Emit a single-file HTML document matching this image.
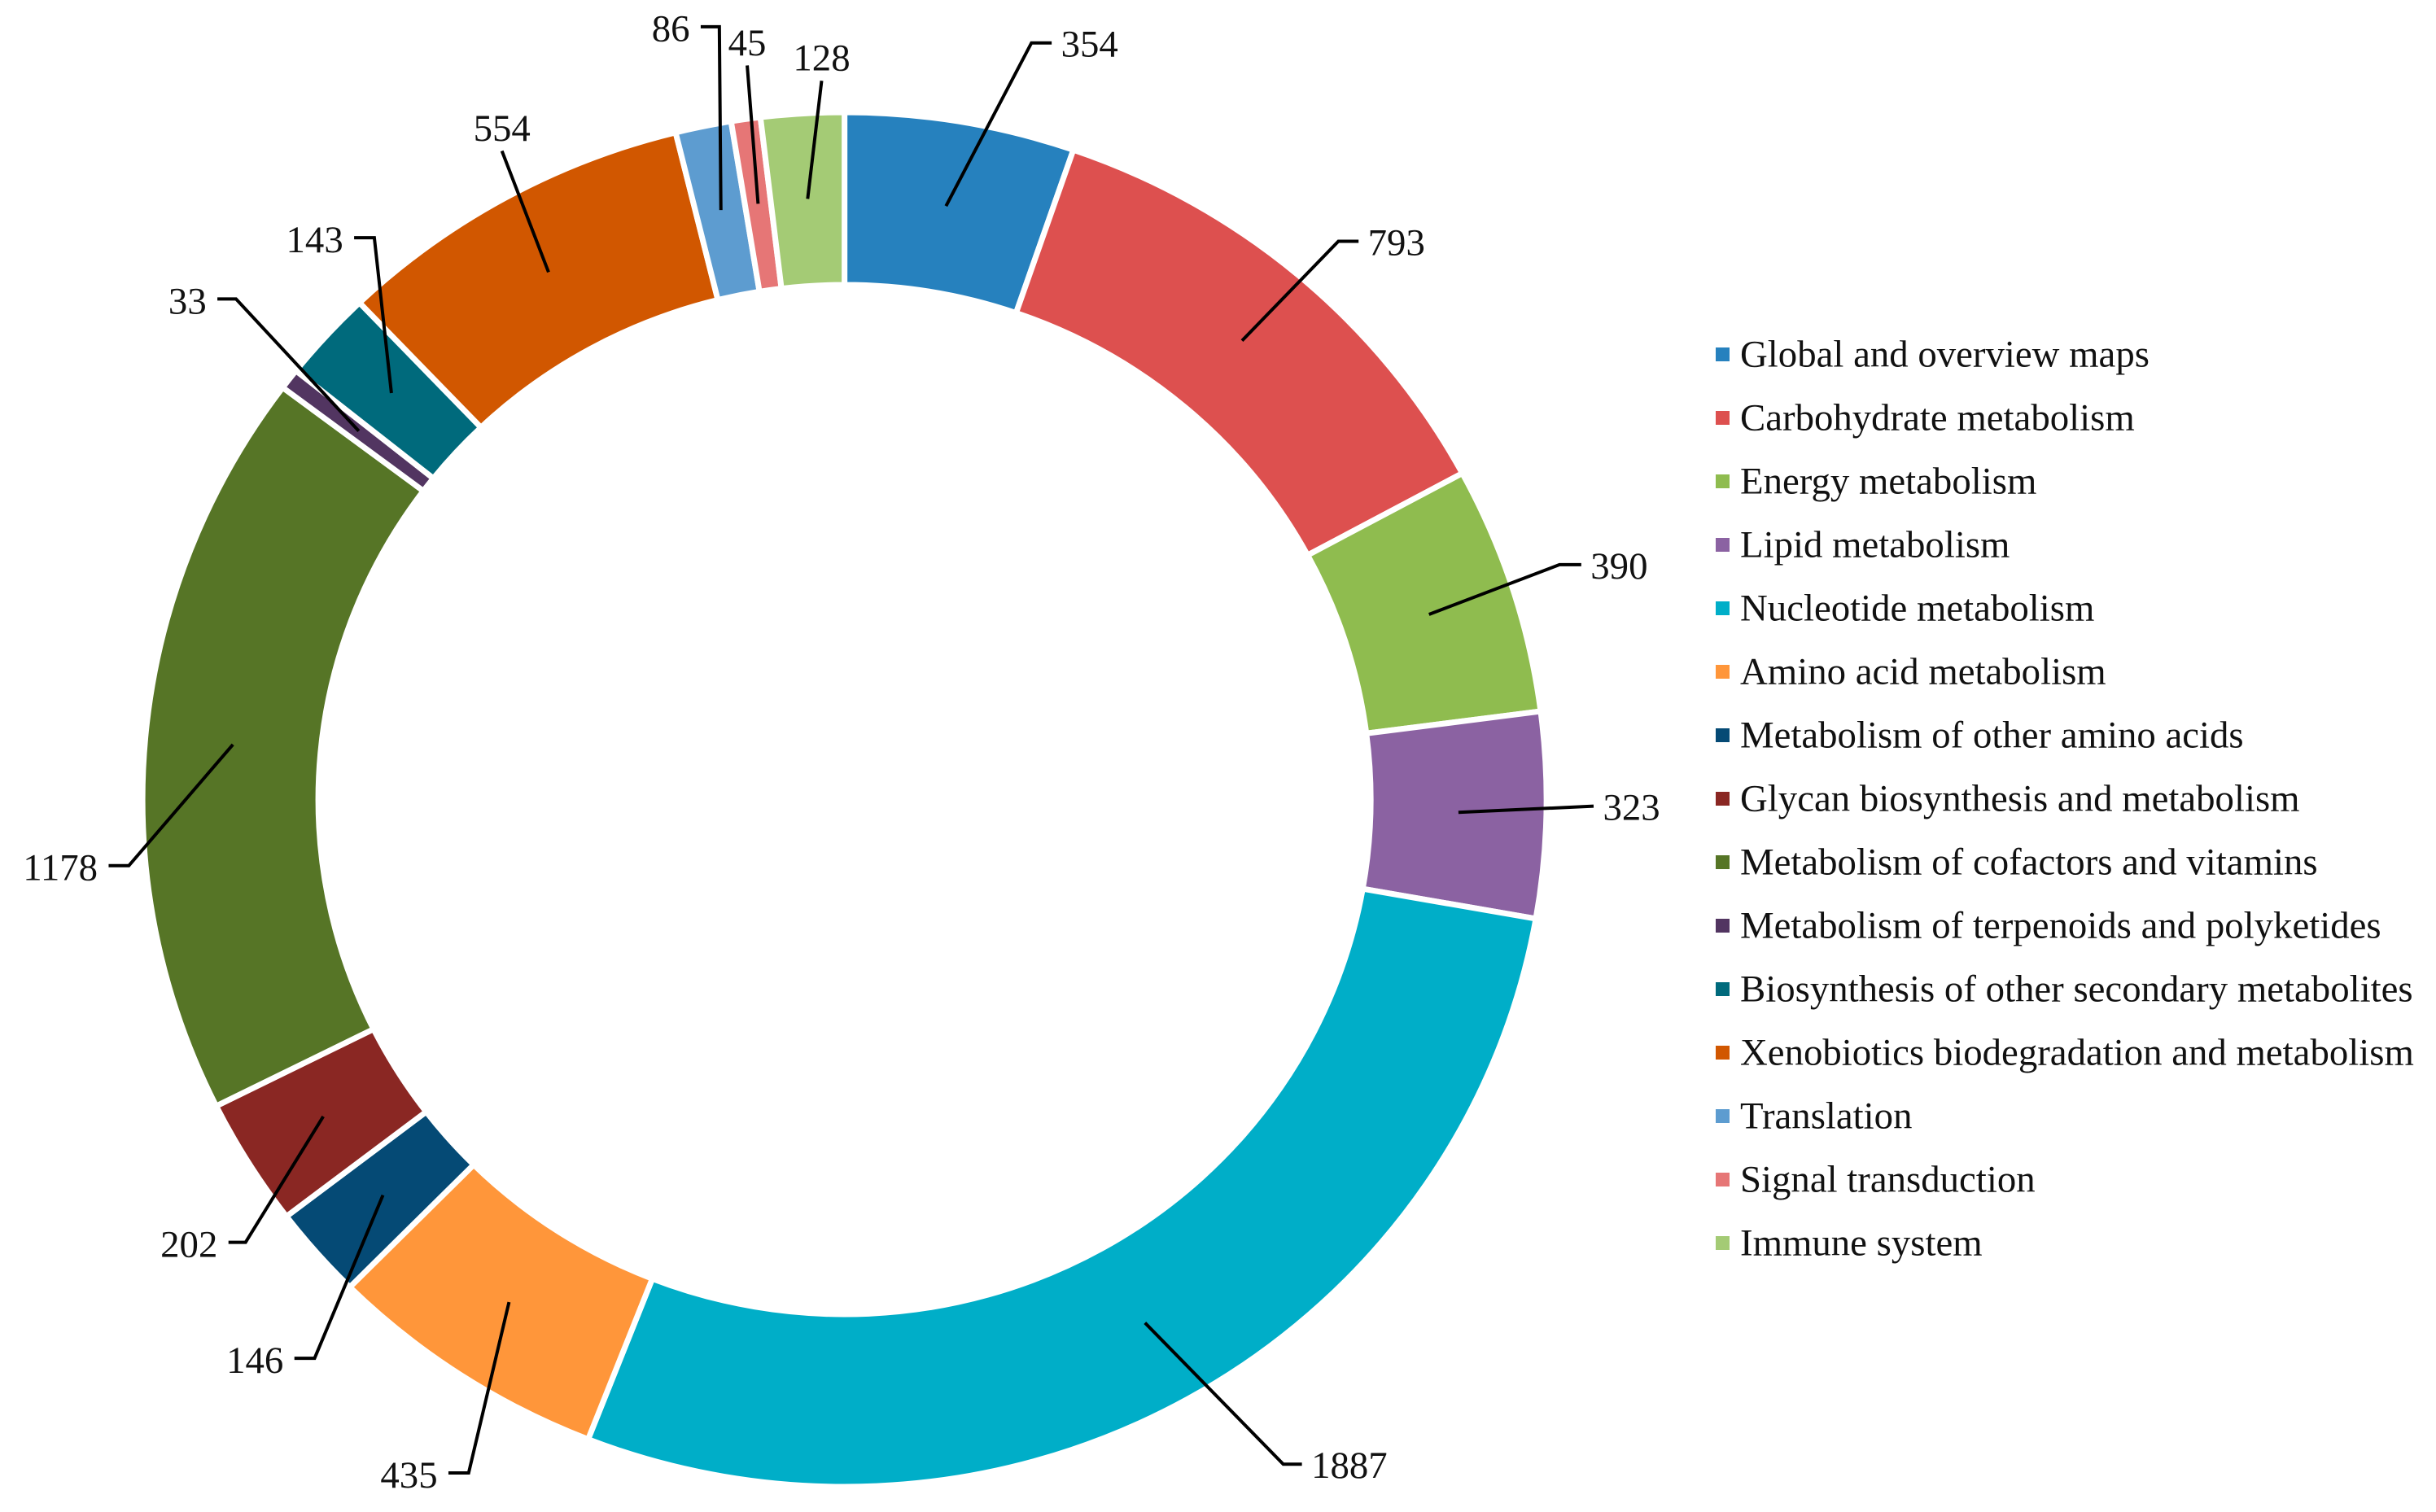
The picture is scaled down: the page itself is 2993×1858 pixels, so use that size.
<!DOCTYPE html>
<html lang="en">
<head>
<meta charset="utf-8">
<title>Metabolic pathway annotation donut chart</title>
<style>
html,body{margin:0;padding:0;background:#fff;width:2993px;height:1858px;overflow:hidden}
svg{display:block}
text{font-family:"Liberation Serif",serif;font-size:46.8px;fill:#111}
</style>
</head>
<body>
<svg id="chart" xmlns="http://www.w3.org/2000/svg" width="2993" height="1858" viewBox="0 0 2993 1858">
<rect x="0" y="0" width="2993" height="1858" fill="#ffffff"/>
<g id="slices"></g>
<g id="leaders"></g>
<g id="labels"></g>
<g id="legend"></g>
</svg>
<script>
// Data
const categories = ["Global and overview maps","Carbohydrate metabolism","Energy metabolism","Lipid metabolism","Nucleotide metabolism","Amino acid metabolism","Metabolism of other amino acids","Glycan biosynthesis and metabolism","Metabolism of cofactors and vitamins","Metabolism of terpenoids and polyketides","Biosynthesis of other secondary metabolites","Xenobiotics biodegradation and metabolism","Translation","Signal transduction","Immune system"];
const seriesValues = [354,793,390,323,1887,435,146,202,1178,33,143,554,86,45,128];
const sliceColors = ["#2681BE","#DD504F","#8FBC4F","#8B62A2","#00AEC8","#FF963A","#054A75","#8A2723","#567526","#523561","#006A7C","#D15700","#5D9CD0","#E67676","#A4CB75"];

// Leader-line layout, relative to each slice's mid-ring point (reference units)
const leaderDx = [55,62,84,87,89,-26,-44,-50,-67,-79,-11,-30,-1,-7,9];
const leaderDy = [-105,-64,-32,-4,91,110,105,81,78,-85,-100,-78,-118,-89,-76];
const leaderTail = [13,13,14,0,12,-13,-13,-11,-13,-12,-13,0,-12,0,0];

const UNIT = 1.909;
const CX = 1037.6, CY = 982.5;
const GAP = 7;
const OUTER_RX = 859 + GAP / 2, OUTER_RY = 841 + GAP / 2;
const INNER_RX = 650 - GAP / 2, INNER_RY = 636 - GAP / 2;
const NS = "http://www.w3.org/2000/svg";
const total = seriesValues.reduce((a, b) => a + b, 0);

function angleOf(cumulative) { return cumulative / total * 2 * Math.PI; }
function pointAt(angle, rx, ry) {
  return [CX + rx * Math.sin(angle), CY - ry * Math.cos(angle)];
}
function make(tag, attrs, parent) {
  const el = document.createElementNS(NS, tag);
  for (const k in attrs) el.setAttribute(k, attrs[k]);
  parent.appendChild(el);
  return el;
}
function slug(s) { return s.toLowerCase().replace(/[^a-z0-9]+/g, "-"); }

const gSlices = document.getElementById("slices");
const gLeaders = document.getElementById("leaders");
const gLabels = document.getElementById("labels");
const gLegend = document.getElementById("legend");

let cumulative = 0;
seriesValues.forEach(function (value, i) {
  const a0 = angleOf(cumulative);
  const a1 = angleOf(cumulative + value);
  const mid = (a0 + a1) / 2;
  cumulative += value;
  const large = a1 - a0 > Math.PI ? 1 : 0;
  const p0 = pointAt(a0, OUTER_RX, OUTER_RY);
  const p1 = pointAt(a1, OUTER_RX, OUTER_RY);
  const p2 = pointAt(a1, INNER_RX, INNER_RY);
  const p3 = pointAt(a0, INNER_RX, INNER_RY);
  const d = "M" + p0[0] + " " + p0[1] +
    " A" + OUTER_RX + " " + OUTER_RY + " 0 " + large + " 1 " + p1[0] + " " + p1[1] +
    " L" + p2[0] + " " + p2[1] +
    " A" + INNER_RX + " " + INNER_RY + " 0 " + large + " 0 " + p3[0] + " " + p3[1] + " Z";
  const slice = make("path", { d: d, fill: sliceColors[i], stroke: "#ffffff", "stroke-width": GAP, "stroke-linejoin": "miter" }, gSlices);
  
  

  // leader line
  const start = pointAt(mid, (OUTER_RX + INNER_RX) / 2, (OUTER_RY + INNER_RY) / 2);
  const ex = start[0] + leaderDx[i] * UNIT;
  const ey = start[1] - 1 + leaderDy[i] * UNIT;
  const tx = ex + leaderTail[i] * UNIT;
  const line = make("polyline", {
    points: start[0] + "," + (start[1] - 1) + " " + ex + "," + ey + " " + tx + "," + ey,
    fill: "none", stroke: "#000000", "stroke-width": 4, "stroke-linejoin": "miter"
  }, gLeaders);
  
  

  // value label
  const tail = leaderTail[i];
  let lx, ly, anchor;
  if (tail > 0 || (tail === 0 && leaderDx[i] > 50)) {
    lx = tx + 6 * UNIT; ly = ey + 1 * UNIT; anchor = "start";
  } else if (tail < 0) {
    lx = tx - 7 * UNIT; ly = ey + 1.5 * UNIT; anchor = "end";
  } else {
    lx = tx; ly = ey - 14.5 * UNIT; anchor = "middle";
  }
  const label = make("text", { x: lx, y: ly, "text-anchor": anchor, "dominant-baseline": "central" }, gLabels);
  label.textContent = String(value);
  
  

  // legend entry
  const rowY = 435.5 + i * 78;
  const swatch = make("rect", { x: 2108, y: rowY - 8.5, width: 17, height: 17, fill: sliceColors[i] }, gLegend);
  
  
  const entry = make("text", { x: 2138, y: rowY, "dominant-baseline": "central" }, gLegend);
  entry.textContent = categories[i];
  
  
});
</script>
</body>
</html>
